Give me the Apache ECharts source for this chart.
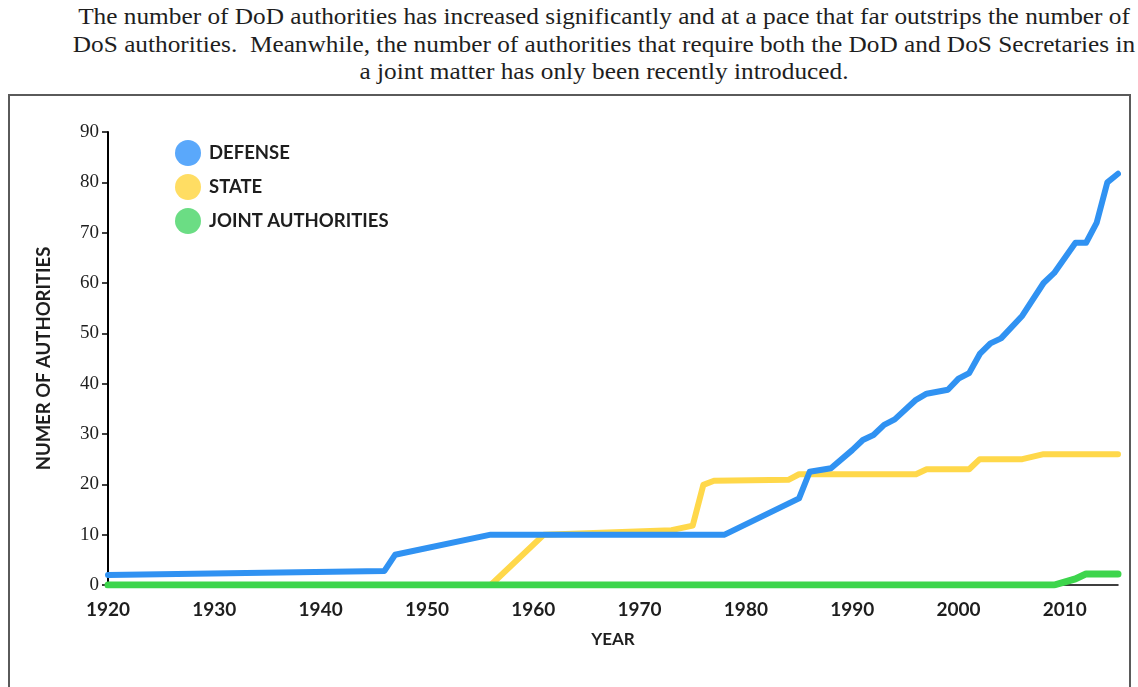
<!DOCTYPE html>
<html style="height: 100%">
<head>
<meta charset="utf-8">
<style type="text/css">
  body, html { width: 100%; height: 100%; margin: 0; overflow: hidden; background: #fff; }
  #title { position: absolute; left: 104px; top: 3px; width: 1000px; text-align: center; white-space: nowrap;
           font-family: "Liberation Serif", serif; font-size: 23px; line-height: 27.5px; color: #1e1e1e;
           transform: scaleX(1.10); transform-origin: 500px 0; }
  #box { position: absolute; left: 8px; top: 94px; width: 1123px; height: 600px;
         border: 2px solid #5a5a5a; box-sizing: border-box; }
  #display { position: absolute; left: 0; top: 0; width: 1138px; height: 687px; }
</style>
</head>
<body>
<div id="title">The number of DoD authorities has increased significantly and at a pace that far outstrips the number of<br>DoS authorities.&nbsp; Meanwhile, the number of authorities that require both the DoD and DoS Secretaries in<br>a joint matter has only been recently introduced.</div>
<div id="box"></div>
<div id="display"></div>
<script type="text/javascript" src="https://cdn.jsdelivr.net/npm/echarts@6/dist/echarts.min.js"></script>
<script type="text/javascript">
// [year, number of authorities]
var defense = [[1920,2],[1946,2.8],[1947,6],[1956,10],[1978,10],[1985,17.2],[1986,22.5],[1988,23.2],
  [1990,26.8],[1991,28.8],[1992,29.8],[1993,31.8],[1994,32.9],[1996,36.8],[1997,38],[1999,38.8],
  [2000,41],[2001,42.1],[2002,45.9],[2003,48],[2004,49],[2006,53.5],[2008,60],[2009,62],
  [2011,68],[2012,68],[2013,72],[2014,80],[2015,81.7]];
var state = [[1920,0],[1956,0],[1961,10],[1973,10.9],[1975,11.8],[1976,19.9],[1977,20.7],[1984,20.9],
  [1985,22],[1996,22],[1997,23],[2001,23],[2002,25],[2006,25],[2008,26],[2015,26]];
var joint = [[1920,0],[2009,0],[2011,1.2],[2012,2.2],[2015,2.2]];
var names = ['DEFENSE', 'STATE', 'JOINT AUTHORITIES'];

var chart = echarts.init(document.getElementById('display'));
var sans = 'Lato';
var serif = 'Liberation Serif';

function lineSeries(name, data, lineColor, dotColor, width, z) {
  return {
    name: name,
    type: 'line',
    data: data,
    showSymbol: false,
    symbol: 'circle',
    z: z,
    itemStyle: { color: dotColor },
    lineStyle: { color: lineColor, width: width, cap: 'round', join: 'round' },
    animation: false
  };
}

var option = {
  backgroundColor: 'transparent',
  legend: {
    orient: 'vertical',
    left: 170,
    top: 135,
    itemWidth: 26,
    itemHeight: 26,
    itemGap: 8,
    icon: 'circle',
    textStyle: { fontFamily: sans, fontWeight: 'bold', fontSize: 18.5, color: '#1e1e1e', padding: [0, 0, 0, 3] },
    data: names
  },
  grid: { left: 108, right: 20, top: 132, bottom: 102 },
  xAxis: {
    type: 'value',
    min: 1920,
    max: 2015,
    interval: 10,
    name: 'YEAR',
    nameLocation: 'middle',
    nameGap: 46,
    nameTextStyle: { fontFamily: sans, fontWeight: 'bold', fontSize: 17, color: '#1e1e1e' },
    axisLine: { show: true, lineStyle: { color: '#000', width: 1.5 } },
    axisTick: { show: false },
    splitLine: { show: false },
    axisLabel: {
      showMaxLabel: false, margin: 15, fontFamily: sans, fontWeight: 'bold', fontSize: 19, color: '#1e1e1e',
      formatter: function (v) { return String(v); }
    }
  },
  yAxis: {
    type: 'value',
    min: 0,
    max: 90,
    interval: 10,
    name: 'NUMER OF AUTHORITIES',
    nameLocation: 'middle',
    nameGap: 54,
    nameTextStyle: { fontFamily: sans, fontWeight: 'bold', fontSize: 18.5, color: '#1e1e1e' },
    axisLine: { show: true, lineStyle: { color: '#000', width: 2 } },
    axisTick: { show: true, length: 6, lineStyle: { color: '#000', width: 1.5 } },
    splitLine: { show: false },
    axisLabel: { margin: 9, fontFamily: serif, fontSize: 19, color: '#1e1e1e' }
  },
  series: [
    lineSeries(names[0], defense, '#3092f2', '#5aa8fb', 6, 3),
    lineSeries(names[1], state, '#ffd84a', '#ffdd63', 6, 2),
    lineSeries(names[2], joint, '#3dd54c', '#6bdd84', 7, 4)
  ]
};
chart.setOption(option);
</script>
</body>
</html>
